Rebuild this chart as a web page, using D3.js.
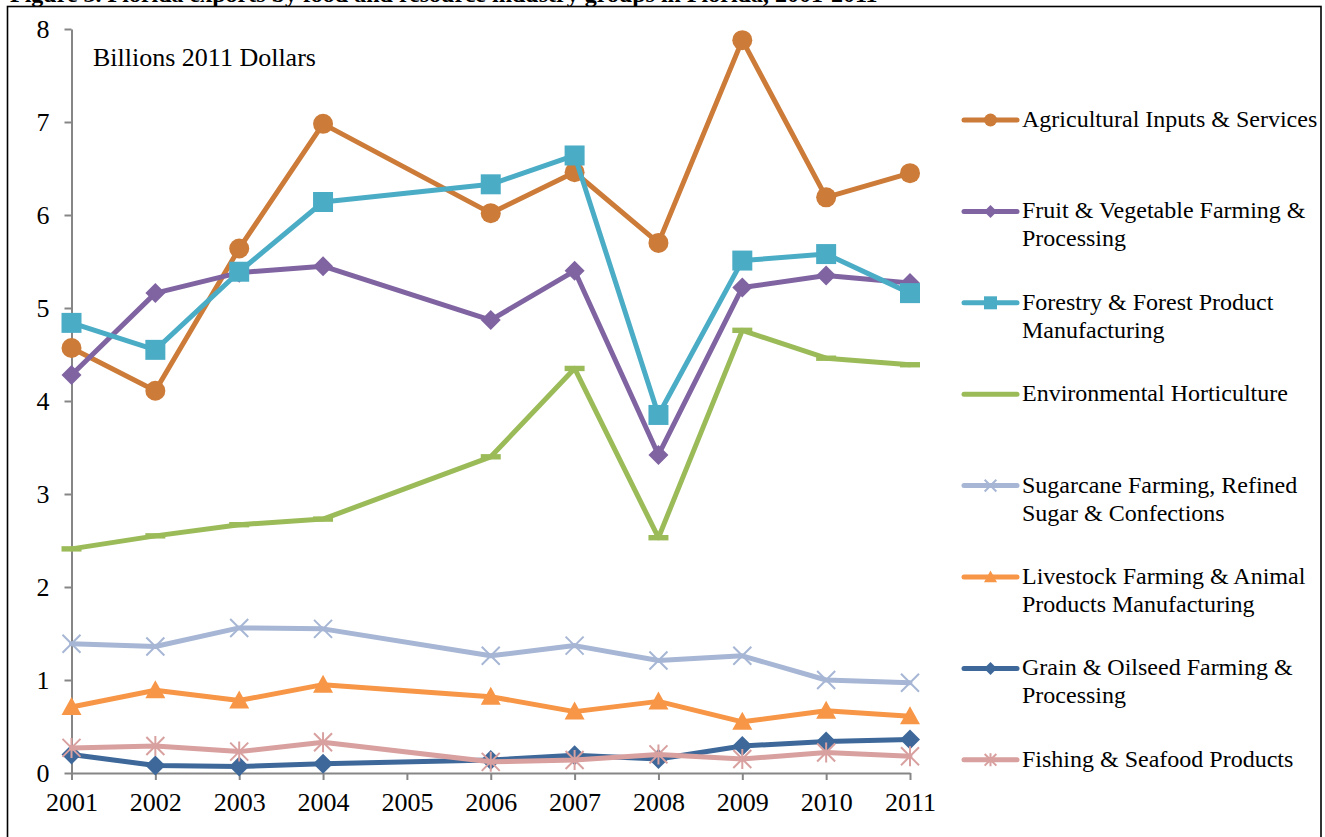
<!DOCTYPE html>
<html>
<head>
<meta charset="utf-8">
<script src="https://cdn.jsdelivr.net/npm/d3@7"></script>
<style>
  html, body { margin: 0; padding: 0; background: #fff; }
  svg { display: block; }
  text { font-family: "Liberation Serif", "Times New Roman", serif; fill: #000; }
</style>
</head>
<body>
<svg id="chart" width="1325" height="837"></svg>
<script>
// Florida exports by industry group, billions of 2011 dollars (no 2005 data)
const years = ["2001","2002","2003","2004","2005","2006","2007","2008","2009","2010","2011"];
const yTicks = [0,1,2,3,4,5,6,7,8];

const agricultural = [4.57, 4.11, 5.64, 6.98, null, 6.02, 6.46, 5.70, 7.88, 6.19, 6.45];
const fruitVeg     = [4.28, 5.16, 5.38, 5.45, null, 4.87, 5.40, 3.42, 5.22, 5.35, 5.27];
const forestry     = [4.84, 4.55, 5.39, 6.14, null, 6.33, 6.64, 3.85, 5.51, 5.58, 5.16];
const horticulture = [2.41, 2.55, 2.67, 2.73, null, 3.40, 4.35, 2.53, 4.76, 4.46, 4.39];
const sugarcane    = [1.39, 1.36, 1.56, 1.55, null, 1.26, 1.37, 1.21, 1.26, 1.00, 0.97];
const livestock    = [0.71, 0.89, 0.78, 0.95, null, 0.82, 0.66, 0.77, 0.55, 0.67, 0.61];
const grain        = [0.20, 0.08, 0.07, 0.10, null, 0.14, 0.19, 0.15, 0.29, 0.34, 0.36];
const fishing      = [0.27, 0.29, 0.23, 0.33, null, 0.12, 0.14, 0.20, 0.15, 0.22, 0.18];

const seriesNames = [
  "Agricultural Inputs & Services",
  "Fruit & Vegetable Farming & Processing",
  "Forestry & Forest Product Manufacturing",
  "Environmental Horticulture",
  "Sugarcane Farming, Refined Sugar & Confections",
  "Livestock Farming & Animal Products Manufacturing",
  "Grain & Oilseed Farming & Processing",
  "Fishing & Seafood Products"
];
const legendLines = [
  ["Agricultural Inputs & Services"],
  ["Fruit & Vegetable Farming &", "Processing"],
  ["Forestry & Forest Product", "Manufacturing"],
  ["Environmental Horticulture"],
  ["Sugarcane Farming, Refined", "Sugar & Confections"],
  ["Livestock Farming & Animal", "Products Manufacturing"],
  ["Grain & Oilseed Farming &", "Processing"],
  ["Fishing & Seafood Products"]
];
const seriesValues = [agricultural, fruitVeg, forestry, horticulture, sugarcane, livestock, grain, fishing];
const seriesColors = ["#CC7B38", "#8064A2", "#4BACC6", "#9BBB59", "#A6B6D4", "#F79646", "#3D6899", "#D8A09F"];
const seriesMarkers = ["circle", "diamond", "square", "dash", "x", "triangle", "diamond", "asterisk"];

const svg = d3.select("#chart");
const W = 1325, H = 837;

const x = d3.scalePoint().domain(years).range([71.5, 910]);
const y = d3.scaleLinear().domain([0, 8]).range([773, 29]);

// figure caption, running off the top edge of the page
svg.append("text")
  .attr("x", 10).attr("y", 2)
  .style("font-size", "24px").style("font-weight", "bold")
  .text("Figure 3. Florida exports by food and resource industry groups in Florida, 2001-2011");

// chart frame
svg.append("rect")
  .attr("x", 7.5).attr("y", 6.5)
  .attr("width", 1313.5).attr("height", H)
  .attr("fill", "#fff").attr("stroke", "#000").attr("stroke-width", 1.6);

// axes
const axisColor = "#868686";
const yAxis = svg.append("g")
  .attr("transform", "translate(71.5,0)")
  .call(d3.axisLeft(y).tickValues(yTicks).tickFormat(d3.format("d")).tickSize(7).tickSizeOuter(0).tickPadding(15));
const xAxis = svg.append("g")
  .attr("transform", "translate(0,773)")
  .call(d3.axisBottom(x).tickSize(7).tickSizeOuter(0).tickPadding(13));

[yAxis, xAxis].forEach(g => {
  g.select(".domain").attr("stroke", axisColor).attr("stroke-width", 2);
  g.selectAll(".tick line").attr("stroke", axisColor).attr("stroke-width", 2);
  g.selectAll(".tick text")
    .style("font-family", "'Liberation Serif', 'Times New Roman', serif")
    .style("font-size", "26px").attr("fill", "#000");
});

svg.append("text")
  .attr("x", 93).attr("y", 66)
  .style("font-size", "26px")
  .text("Billions 2011 Dollars");

// marker shapes, centred on the origin; s = full size
function markerPath(type, s) {
  const h = s / 2;
  switch (type) {
    case "circle": return `M${h},0A${h},${h} 0 1,1 ${-h},0A${h},${h} 0 1,1 ${h},0Z`;
    case "diamond": return `M0,${-h}L${h},0L0,${h}L${-h},0Z`;
    case "square": return `M${-h},${-h}H${h}V${h}H${-h}Z`;
    case "dash": return `M${-h},-2.7H${h}V2.7H${-h}Z`;
    case "triangle": return `M0,${-h}L${h},${h * 0.8}L${-h},${h * 0.8}Z`;
    case "x": return `M${-h * 0.9},${-h * 0.9}L${h * 0.9},${h * 0.9}M${-h * 0.9},${h * 0.9}L${h * 0.9},${-h * 0.9}`;
    case "asterisk": return `M${-h * 0.9},${-h * 0.9}L${h * 0.9},${h * 0.9}M${-h * 0.9},${h * 0.9}L${h * 0.9},${-h * 0.9}M0,${-h}L0,${h}`;
  }
}
function drawMarker(g, type, color, s) {
  const p = g.append("path").attr("d", markerPath(type, s));
  if (type === "x" || type === "asterisk") {
    p.attr("fill", "none").attr("stroke", color).attr("stroke-width", 2);
  } else {
    p.attr("fill", color).attr("stroke", "none");
  }
}

const line = d3.line()
  .x(d => x(d.year))
  .y(d => y(d.value));

seriesValues.forEach((vals, i) => {
  const pts = years.map((yr, j) => ({ year: yr, value: vals[j] })).filter(d => d.value !== null);
  const g = svg.append("g").attr("class", "series");
  g.append("path")
    .datum(pts)
    .attr("d", line)
    .attr("fill", "none")
    .attr("stroke", seriesColors[i])
    .attr("stroke-width", 5)
    .attr("stroke-linejoin", "round")
    .attr("stroke-linecap", "round");
  pts.forEach(d => {
    const m = g.append("g").attr("transform", `translate(${x(d.year)},${y(d.value)})`);
    drawMarker(m, seriesMarkers[i], seriesColors[i], 20);
  });
});

// legend
const legendBaselines = d3.range(seriesNames.length).map(i => 127 + i * 91.4);
seriesNames.forEach((name, i) => {
  const base = legendBaselines[i];
  const g = svg.append("g").attr("class", "legend-item");
  g.append("line")
    .attr("x1", 964).attr("x2", 1017)
    .attr("y1", base - 7).attr("y2", base - 7)
    .attr("stroke", seriesColors[i]).attr("stroke-width", 5)
    .attr("stroke-linecap", "round");
  if (seriesMarkers[i] !== "dash") {
    const m = g.append("g").attr("transform", `translate(990.5,${base - 7})`);
    drawMarker(m, seriesMarkers[i], seriesColors[i], 13);
  }
  const t = g.append("text").attr("x", 1022).attr("y", base).style("font-size", "24px");
  legendLines[i].forEach((ln, k) => {
    t.append("tspan").attr("x", 1022).attr("y", base + k * 28).text(ln);
  });
});
</script>
</body>
</html>
